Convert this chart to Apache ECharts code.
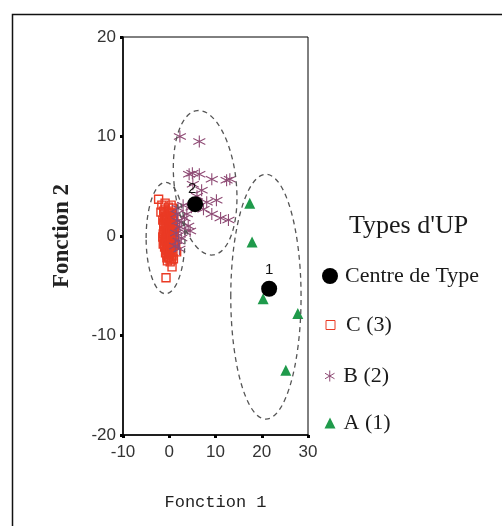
<!DOCTYPE html>
<html>
<head>
<meta charset="utf-8">
<script src="https://cdn.jsdelivr.net/npm/echarts@6/dist/echarts.min.js"></script>
<style>
html,body{margin:0;padding:0;background:#fff;}
#chart{width:502px;height:526px;}
</style>
</head>
<body>
<div id="chart"></div>
<script>
// ---- data ----
var xTicks = [-10, 0, 10, 20, 30];
var yTicks = [-20, -10, 0, 10, 20];
var xAxisTitle = 'Fonction 1';
var yAxisTitle = 'Fonction 2';
var legendTitle = "Types d'UP";
var seriesNames = ['Centre de Type', 'C (3)', 'B (2)', 'A (1)'];

// group centroids: [x, y, label]
var centroids = [[21.6, -5.3, '1'], [5.6, 3.2, '2']];

// Type C (3)
var typeC = [
  [-2.3,3.7],[-1.6,3.1],[-0.9,3.3],[-0.2,2.9],[0.4,3.1],[-1.8,2.4],[-1.1,2.2],[-0.3,2.1],[0.5,2.3],[1.0,1.9],
  [-1.4,1.6],[-0.7,1.5],[0.0,1.4],[0.7,1.2],[-1.2,0.9],[-0.5,0.8],[0.3,0.7],[1.1,0.6],
  [-1.3,0.2],[-0.6,0.1],[0.1,0.0],[0.8,-0.1],[-1.1,-0.5],[-0.4,-0.6],[0.4,-0.7],[1.2,-0.4],
  [-1.0,-1.1],[-0.3,-1.2],[0.5,-1.3],[-0.8,-1.7],[0.0,-1.8],[0.8,-1.6],[1.6,-1.6],[-0.5,-2.2],
  [0.2,-2.6],[0.9,-2.3],[-0.2,-2.1],[0.6,-3.1],[-0.7,-4.2],
  [-0.9,2.7],[-0.1,2.5],[0.6,1.6],[-0.9,1.2],[-0.2,1.0],[0.5,0.3],[-0.8,-0.2],[0.0,-0.3],
  [0.9,-0.9],[-0.6,-1.4],[0.2,-1.0],[-1.2,1.3],[0.3,1.8],[-0.4,0.4],[1.0,0.1],[-0.1,-1.5],
  [0.6,-2.0],[-1.0,-0.8],[0.7,2.8],[1.3,1.2],[1.4,-0.9],[-1.4,-0.1],[-0.6,1.9],[0.2,2.3],
  [-0.3,-0.9],[0.3,-1.7],[-0.9,0.5],[0.9,0.9],[-0.2,0.2],[0.4,1.1],[-0.5,-1.9],
  [-0.8,2.0],[-0.4,1.7],[0.1,1.6],[-1.0,1.8],[-0.7,1.1],[0.0,0.9],[-0.3,0.6],[-1.1,0.4],
  [-0.7,0.3],[0.3,0.4],[-0.5,-0.3],[0.2,-0.4],[-0.9,-0.4],[-0.6,-0.9],[0.0,-0.7],[0.6,-1.0],
  [-0.2,-1.4],[0.3,-1.5],[-0.7,-1.2],[0.0,-2.2],[-0.4,-2.5],[0.5,-2.4],[0.8,1.5],[0.8,0.4],
  [-1.2,2.5],[-0.5,2.4],[0.1,2.0],[-0.1,0.5],[0.5,-0.2],[-1.3,-0.8]
];

// Type B (2)
var typeB = [
  [2.3,10.0],[6.5,9.5],
  [4.3,6.2],[5.0,6.3],[6.5,6.2],[5.1,5.2],[9.2,5.7],[12.4,5.6],[13.1,5.7],
  [8.1,3.4],[10.2,3.6],[7.4,2.7],[9.2,2.2],[11.1,1.8],[12.8,1.6],
  [4.8,2.9],[3.8,2.2],[2.7,1.4],[4.1,1.0],[3.4,0.4],[4.5,0.5],[2.3,0.9],
  [1.6,2.2],[2.0,-0.5],[1.3,-1.0],[3.0,3.1],[1.8,1.5],[2.6,-0.2],[1.5,0.3],
  [2.2,-1.3],[3.3,1.8],[1.9,2.8],[6.0,4.0],[7.0,4.6]
];

// Type A (1)
var typeA = [[17.4,3.3],[17.9,-0.6],[20.3,-6.3],[27.8,-7.8],[25.2,-13.5]];

// group ellipses: [centerX, centerY, radiusX, radiusY, tiltDeg]
var ellipses = [[7.76, 5.35, 6.7, 7.3, 6.3], [-0.8, -0.2, 4.2, 5.6, 0], [20.9, -6.1, 7.6, 12.3, 0]];

// ---- styles ----
var colC = '#ea3a24', colB = '#8e4a74', colA = '#1f9a4b';
var starPath = 'path://M5 0L5 10M0.67 2.5L9.33 7.5M0.67 7.5L9.33 2.5';
var serif = '"Liberation Serif", "Times New Roman", serif';
var sans = '"Liberation Sans", Arial, sans-serif';

var chart = echarts.init(document.getElementById('chart'));

function legendAt(name, icon, size, cy, itemStyle, pad) {
  return {
    show: true, orient: 'vertical', padding: 0,
    left: 330 - size / 2, top: cy - 12,
    itemWidth: size, itemHeight: size,
    data: [{ name: name, icon: icon, itemStyle: itemStyle }],
    selectedMode: false,
    textStyle: { fontFamily: serif, fontSize: 22, lineHeight: 24, color: '#1a1a1a', padding: [0, 0, 0, pad] }
  };
}

var option = {
  animation: false,
  backgroundColor: '#fff',
  graphic: [{
    type: 'rect', left: 10, top: 12, silent: true,
    shape: { width: 600, height: 600 },
    style: { fill: 'none', stroke: '#111', lineWidth: 1.5 }
  }],
  title: {
    text: legendTitle, left: 349, top: 213, padding: 0,
    textStyle: { fontFamily: serif, fontSize: 26, fontWeight: 'normal', color: '#1a1a1a' }
  },
  legend: [
    legendAt(seriesNames[0], 'circle', 16, 276, { color: '#000' }, 2),
    legendAt(seriesNames[1], 'rect', 9, 325, { color: 'transparent', borderColor: colC, borderWidth: 1 }, 6),
    legendAt(seriesNames[2], starPath, 11, 376, { color: 'transparent', borderColor: colB, borderWidth: 1 }, 3),
    legendAt(seriesNames[3], 'triangle', 11, 423, { color: colA }, 3)
  ],
  grid: {
    left: 123, right: 194, top: 37, bottom: 91,
    show: true, borderColor: '#000', borderWidth: 1, backgroundColor: 'transparent'
  },
  xAxis: {
    type: 'value', min: xTicks[0], max: xTicks[xTicks.length - 1], interval: 10,
    name: xAxisTitle, nameLocation: 'middle', nameGap: 59,
    nameTextStyle: { fontFamily: '"Liberation Mono", "Courier New", monospace', fontSize: 17, color: '#222' },
    axisLine: { onZero: false, lineStyle: { color: '#000', width: 1.5 } },
    axisTick: { show: true, inside: false, length: 3, lineStyle: { color: '#000', width: 3 } },
    axisLabel: { margin: 9, fontFamily: sans, fontSize: 17, color: '#333' },
    splitLine: { show: false }
  },
  yAxis: {
    type: 'value', min: yTicks[0], max: yTicks[yTicks.length - 1], interval: 10,
    name: yAxisTitle, nameLocation: 'middle', nameGap: 49, nameRotate: 90,
    nameTextStyle: { fontFamily: serif, fontSize: 23, fontWeight: 'bold', color: '#222' },
    axisLine: { onZero: false, lineStyle: { color: '#000', width: 1.5 } },
    axisTick: { show: true, inside: false, length: 3, lineStyle: { color: '#000', width: 3 } },
    axisLabel: { margin: 7, fontFamily: sans, fontSize: 17, color: '#333' },
    splitLine: { show: false }
  },
  series: [
    {
      name: seriesNames[1], type: 'scatter', data: typeC,
      symbol: 'rect', symbolSize: 8,
      itemStyle: { color: 'transparent', borderColor: colC, borderWidth: 1.4, opacity: 1 }
    },
    {
      name: seriesNames[2], type: 'scatter', data: typeB,
      symbol: starPath, symbolSize: 12,
      itemStyle: { color: 'transparent', borderColor: colB, borderWidth: 1.1, opacity: 1 }
    },
    {
      name: seriesNames[3], type: 'scatter', data: typeA,
      symbol: 'triangle', symbolSize: 11,
      itemStyle: { color: colA, opacity: 1 }
    },
    {
      name: 'ellipses', type: 'custom', silent: true, z: 5,
      data: ellipses,
      encode: { x: 0, y: 1 },
      renderItem: function (params, api) {
        var c = api.coord([api.value(0), api.value(1)]);
        var s = api.size([api.value(2), api.value(3)]);
        return {
          type: 'ellipse',
          x: c[0], y: c[1],
          rotation: api.value(4) * Math.PI / 180,
          shape: { cx: 0, cy: 0, rx: s[0], ry: s[1] },
          style: { fill: 'none', stroke: '#555', lineWidth: 1.3, lineDash: [5, 4] }
        };
      }
    },
    {
      name: seriesNames[0], type: 'scatter', z: 6,
      data: centroids.map(function (d, i) {
        return {
          value: [d[0], d[1]], name: d[2],
          label: { offset: i === 1 ? [-3, 3] : [0, 0] }
        };
      }),
      symbol: 'circle', symbolSize: 16,
      itemStyle: { color: '#000', opacity: 1 },
      label: {
        show: true, position: 'top', distance: 3, formatter: '{b}',
        fontFamily: sans, fontSize: 15, color: '#111'
      }
    }
  ]
};
chart.setOption(option);
</script>
</body>
</html>
